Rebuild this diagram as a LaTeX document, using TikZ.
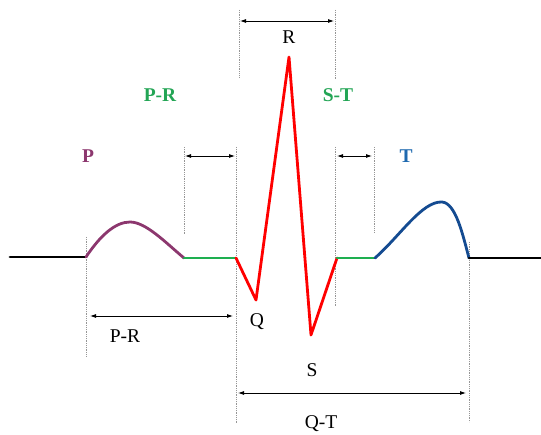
\documentclass[tikz,border=0pt]{standalone}
\usepackage{fontspec}
\setmainfont{Liberation Serif}
\usetikzlibrary{arrows.meta}
\definecolor{pcol}{RGB}{140,55,110}
\definecolor{gcol}{RGB}{30,175,80}
\definecolor{gtext}{RGB}{35,165,85}
\definecolor{tcol}{RGB}{20,75,145}
\definecolor{ttext}{RGB}{30,105,175}
\definecolor{dotcol}{RGB}{150,150,150}
\begin{document}
\begin{tikzpicture}[x=1pt,y=-1pt,
  wave/.style={line width=2.8pt,line join=round,line cap=round},
  guide/.style={dotcol,densely dotted,line width=0.8pt},
  dim/.style={line width=0.8pt,{Latex[length=6pt,width=4pt]}-{Latex[length=6pt,width=4pt]}},
  lbl/.style={font=\fontsize{19.5}{19.5}\selectfont,inner sep=0pt},
  blbl/.style={font=\fontsize{19.5}{19.5}\selectfont\bfseries,inner sep=0pt}]
\useasboundingbox (0,0) rectangle (541,435);
% key points
\coordinate (L0) at (10,257);
\coordinate (P0) at (86,257);
\coordinate (P1) at (184,258);
\coordinate (Q0) at (236,258);
\coordinate (Qm) at (256,300);
\coordinate (Rm) at (289,57);
\coordinate (Sm) at (311,335);
\coordinate (S1) at (337,258);
\coordinate (T0) at (375,258);
\coordinate (T1) at (469,258);
\coordinate (L1) at (541,258);
% guides
\draw[guide] (86,237) -- (86,357);
\draw[guide] (184,147) -- (184,235);
\draw[guide] (236,147) -- (236,423);
\draw[guide] (239,10) -- (239,78);
\draw[guide] (335,10) -- (335,80);
\draw[guide] (335,147) -- (335,307);
\draw[guide] (374,147) -- (374,233);
\draw[guide] (469,242) -- (469,422);
% waveform
\draw[wave,black] (L0) -- (P0);
\draw[wave,pcol] (P0) .. controls (100,236) and (115,222) .. (130,222) .. controls (146,222) and (166,243) .. (P1);
\draw[wave,gcol] (P1) -- (Q0);
\draw[wave,red] (Q0) -- (Qm) -- (Rm) -- (Sm) -- (S1);
\draw[wave,gcol] (S1) -- (T0);
\draw[wave,tcol] (T0) .. controls (400,236) and (422,201) .. (442,202) .. controls (456,203) and (463,236) .. (T1);
\draw[wave,black] (T1) -- (L1);
% dimension arrows
\coordinate (ra) at (240,21); \coordinate (rb) at (334,21);
\coordinate (pra) at (185,156); \coordinate (prb) at (235,156);
\coordinate (sta) at (337,156); \coordinate (stb) at (372,156);
\coordinate (pba) at (90,316); \coordinate (pbb) at (233,316);
\coordinate (qta) at (238,393); \coordinate (qtb) at (466,393);
\draw[dim] (ra) -- (rb);
\draw[dim] (pra) -- (prb);
\draw[dim] (sta) -- (stb);
\draw[dim] (pba) -- (pbb);
\draw[dim] (qta) -- (qtb);
% labels
\node[lbl] (R) at (289,37) {R};
\node[blbl,text=gtext] (PRt) at (160,95) {P-R};
\node[blbl,text=gtext] (STt) at (338,95) {S-T};
\node[blbl,text=pcol] (P) at (88,156) {P};
\node[blbl,text=ttext] (T) at (406,156) {T};
\node[lbl] (Q) at (257,322) {Q};
\node[lbl] (PRb) at (125,336) {P-R};
\node[lbl] (S) at (312,370) {S};
\node[lbl] (QT) at (321,424) {Q-T};
\end{tikzpicture}
\end{document}
